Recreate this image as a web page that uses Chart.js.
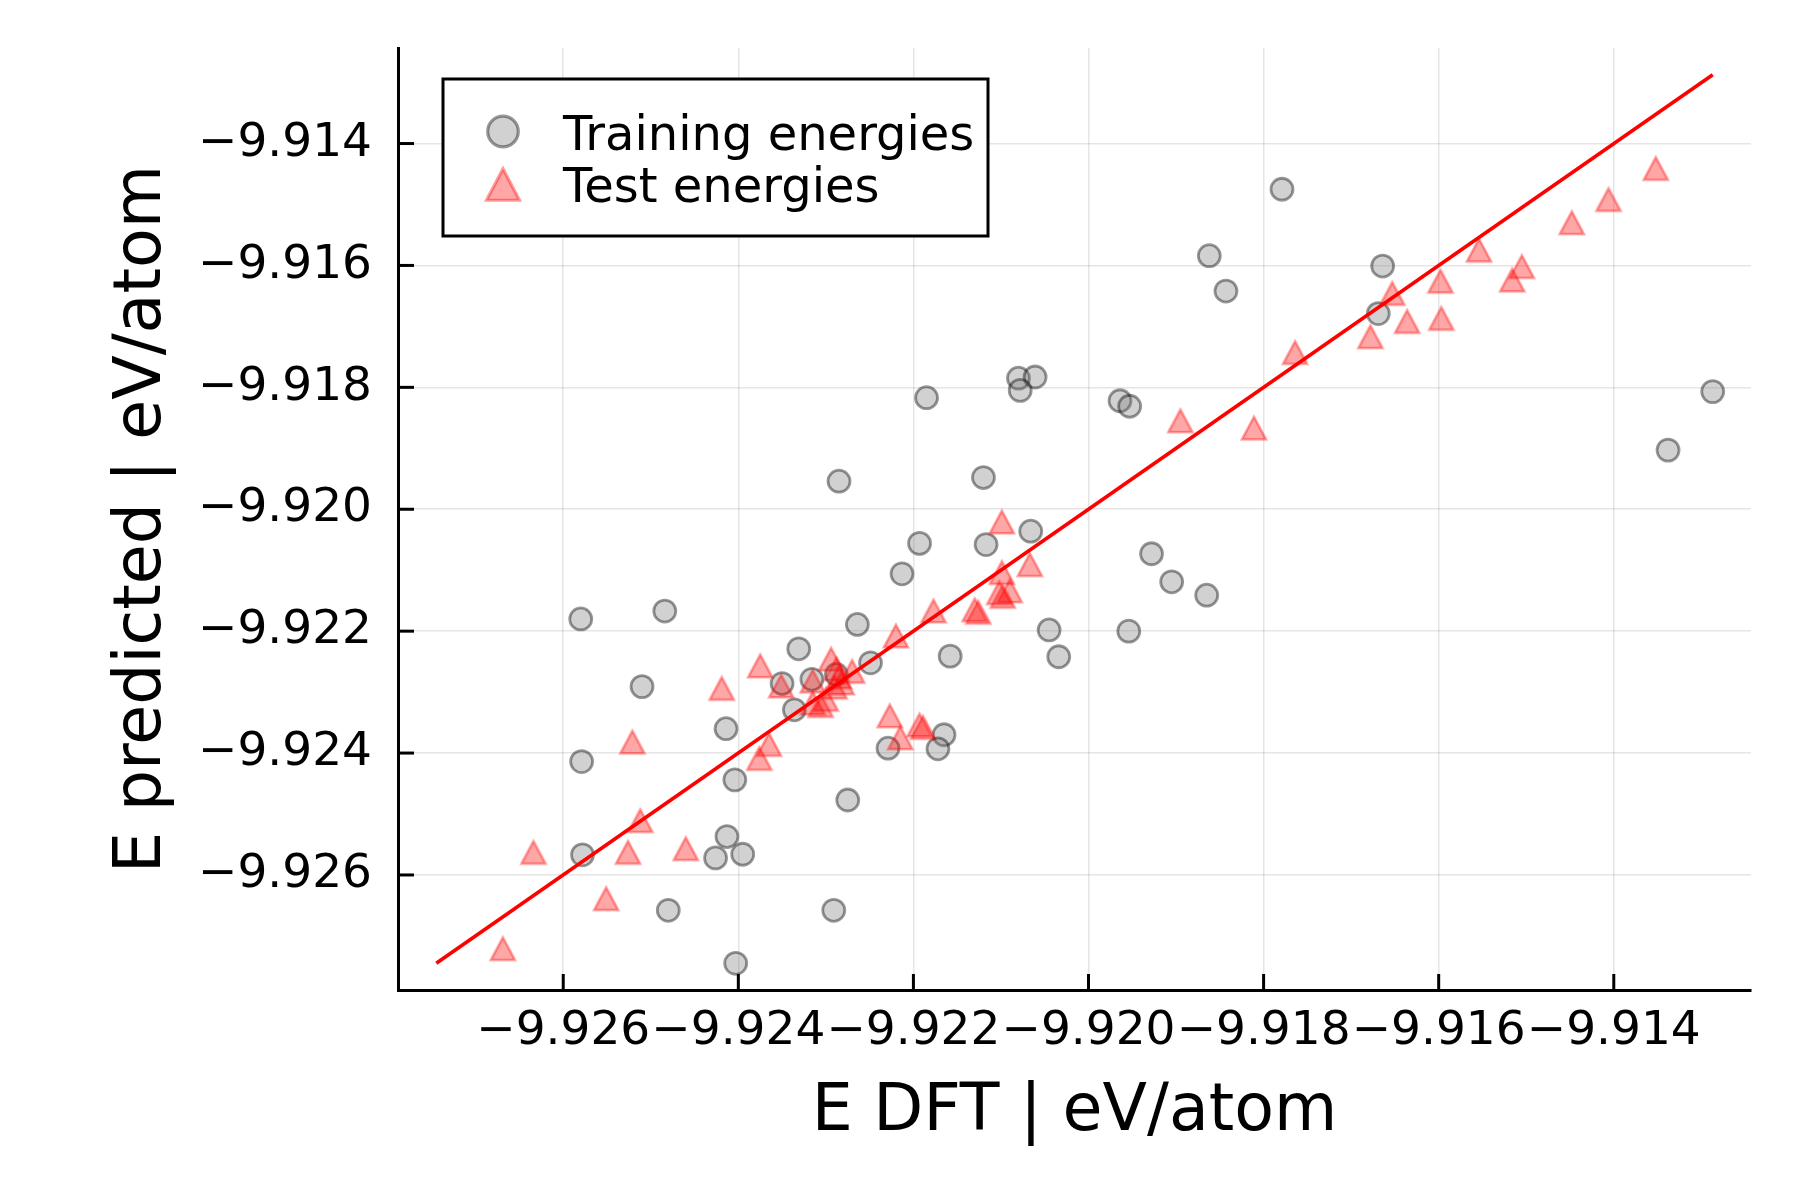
<!DOCTYPE html>
<html>
<head>
<meta charset="utf-8">
<script src="https://cdn.jsdelivr.net/npm/chart.js@4.4.1/dist/chart.umd.min.js"></script>
<style>
html,body{margin:0;padding:0;background:#ffffff;}
#wrap{width:1800px;height:1200px;}
</style>
</head>
<body>
<div id="wrap"><canvas id="c" width="1800" height="1200"></canvas></div>
<script>
// ---- data ----
const xTickValues = [-9.926, -9.924, -9.922, -9.920, -9.918, -9.916, -9.914];
const yTickValues = [-9.926, -9.924, -9.922, -9.920, -9.918, -9.916, -9.914];

const seriesLabels = ['Training energies', 'Test energies'];
const xTitle = 'E DFT | eV/atom';
const yTitle = 'E predicted | eV/atom';

const trainDFT = [
  -9.91779, -9.91862, -9.91843, -9.91664, -9.91669, -9.91287, -9.91338,
  -9.92185, -9.92080, -9.92061, -9.92078, -9.91964, -9.91953, -9.92120, -9.92285,
  -9.92193, -9.92117, -9.92066, -9.92213, -9.91928, -9.91905, -9.91865,
  -9.92264, -9.92249, -9.92158, -9.92045, -9.92034, -9.91954,
  -9.92580, -9.92484, -9.92331, -9.92510, -9.92350, -9.92316, -9.92288, -9.92336, -9.92414,
  -9.92165, -9.92172, -9.92229, -9.92579, -9.92404, -9.92275, -9.92413, -9.92426, -9.92395, -9.92578,
  -9.92480, -9.92291, -9.92403
];
const trainPred = [
  -9.91475, -9.91584, -9.91642, -9.91601, -9.91679, -9.91807, -9.91903,
  -9.91817, -9.91785, -9.91783, -9.91805, -9.91822, -9.91831, -9.91948, -9.91954,
  -9.92056, -9.92058, -9.92036, -9.92106, -9.92073, -9.92119, -9.92141,
  -9.92189, -9.92252, -9.92241, -9.92198, -9.92242, -9.92200,
  -9.92180, -9.92167, -9.92229, -9.92291, -9.92286, -9.92279, -9.92271, -9.92329, -9.92360,
  -9.92370, -9.92393, -9.92392, -9.92414, -9.92444, -9.92477, -9.92537, -9.92572, -9.92566, -9.92567,
  -9.92658, -9.92658, -9.92745
];
const testDFT = [
  -9.91352, -9.91406, -9.91448, -9.91554, -9.91505, -9.91516, -9.91598, -9.91653, -9.91636, -9.91597, -9.91678, -9.91764,
  -9.91895, -9.91811,
  -9.92099, -9.92067, -9.92099, -9.92090, -9.92102, -9.92098, -9.92130, -9.92126, -9.92177, -9.92220,
  -9.92270, -9.92294, -9.92375, -9.92419, -9.92351, -9.92315,
  -9.92288, -9.92285, -9.92282, -9.92290,
  -9.92315, -9.92306, -9.92300,
  -9.92227, -9.92193, -9.92189, -9.92215,
  -9.92521, -9.92365, -9.92376, -9.92512, -9.92634, -9.92526, -9.92460, -9.92551, -9.92669
];
const testPred = [
  -9.91441, -9.91492, -9.91530, -9.91575, -9.91602, -9.91624, -9.91626, -9.91646, -9.91692, -9.91687, -9.91717, -9.91743,
  -9.91855, -9.91867,
  -9.92021, -9.92091, -9.92104, -9.92134, -9.92137, -9.92143, -9.92165, -9.92169, -9.92167, -9.92208,
  -9.92266, -9.92246, -9.92257, -9.92294, -9.92290, -9.92282,
  -9.92262, -9.92275, -9.92285, -9.92292,
  -9.92318, -9.92322, -9.92312,
  -9.92339, -9.92354, -9.92358, -9.92375,
  -9.92382, -9.92386, -9.92409, -9.92511, -9.92563, -9.92563, -9.92557, -9.92639, -9.92721
];
// y = x reference line end points
const refLine = [-9.92745, -9.91287];

// ---- styling ----
const FONT = 'DejaVu Sans';
const circleFill = 'rgba(120,120,120,0.34)';
const circleStroke = 'rgba(0,0,0,0.4)';
const triFill = 'rgba(255,0,0,0.35)';
const triStroke = 'rgba(255,0,0,0.38)';

const allVals = trainDFT.concat(trainPred, testDFT, testPred);
const lo = Math.min(...allVals), hi = Math.max(...allVals);
const widen = (hi - lo) * 0.03;

function drawTri(g, cx, cy, w, h, lw) {
  g.beginPath();
  g.moveTo(cx, cy - h / 2);
  g.lineTo(cx + w / 2, cy + h / 2);
  g.lineTo(cx - w / 2, cy + h / 2);
  g.closePath();
  g.fillStyle = triFill;
  g.fill();
  g.lineWidth = lw;
  g.lineJoin = 'miter';
  g.strokeStyle = triStroke;
  g.stroke();
}
function makeTriangle(w, h, lw) {
  const c = document.createElement('canvas');
  const size = 2 * Math.ceil((Math.max(w, h) + lw * 4) / 2);
  c.width = size; c.height = size;
  drawTri(c.getContext('2d'), size / 2, size / 2, w, h, lw);
  return c;
}
const triImg = makeTriangle(24, 22.5, 2.6);

const fmt = v => (v < 0 ? '\u2212' : '') + Math.abs(v).toFixed(3);

const pts = (xs, ys) => xs.map((x, i) => ({x: x, y: ys[i]}));

const noPad = s => { s.paddingTop = 0; s.paddingBottom = 0; s.paddingLeft = 0; s.paddingRight = 0; };

const extras = {
  id: 'extras',
  afterDraw(chart) {
    const ctx = chart.ctx;
    const ca = chart.chartArea;
    const xs = chart.scales.x, ys = chart.scales.y;
    ctx.save();
    // inward tick marks
    ctx.strokeStyle = '#000';
    ctx.lineWidth = 3;
    const tl = 16;
    xTickValues.forEach(v => {
      const p = xs.getPixelForValue(v);
      ctx.beginPath(); ctx.moveTo(p, ca.bottom); ctx.lineTo(p, ca.bottom - tl); ctx.stroke();
    });
    yTickValues.forEach(v => {
      const p = ys.getPixelForValue(v);
      ctx.beginPath(); ctx.moveTo(ca.left, p); ctx.lineTo(ca.left + tl, p); ctx.stroke();
    });
    // legend
    const bx = ca.left + 45, by = ca.top + 31, bw = 545, bh = 157;
    ctx.fillStyle = '#fff';
    ctx.fillRect(bx, by, bw, bh);
    ctx.lineWidth = 3;
    ctx.strokeStyle = '#000';
    ctx.strokeRect(bx, by, bw, bh);
    // circle marker
    ctx.beginPath();
    ctx.arc(bx + 60, by + 52.5, 15.3, 0, Math.PI * 2);
    ctx.fillStyle = circleFill; ctx.fill();
    ctx.lineWidth = 3.2; ctx.strokeStyle = circleStroke; ctx.stroke();
    // triangle marker
    drawTri(ctx, bx + 60, by + 105.5, 33, 31.5, 3.2);
    // text
    ctx.fillStyle = '#000';
    ctx.font = '48px "' + FONT + '"';
    ctx.textAlign = 'left';
    ctx.textBaseline = 'alphabetic';
    ctx.fillText(chart.data.datasets[2].label, bx + 120, by + 70.5);
    ctx.fillText(chart.data.datasets[1].label, bx + 120, by + 122.5);
    ctx.restore();
  }
};

new Chart(document.getElementById('c'), {
  type: 'scatter',
  data: {
    datasets: [
      {
        label: 'y = x',
        data: pts(refLine, refLine),
        showLine: true,
        borderColor: '#ff0000',
        borderWidth: 3.6,
        pointRadius: 0,
        fill: false
      },
      {
        label: seriesLabels[1],
        data: pts(testDFT, testPred),
        pointStyle: triImg,
        pointRadius: 13,
        pointHoverRadius: 13
      },
      {
        label: seriesLabels[0],
        data: pts(trainDFT, trainPred),
        pointStyle: 'circle',
        pointRadius: 11,
        pointHoverRadius: 11,
        backgroundColor: circleFill,
        borderColor: circleStroke,
        borderWidth: 2.8
      }
    ]
  },
  options: {
    responsive: false,
    animation: false,
    events: [],
    layout: {padding: {left: 0, top: 48, right: 49, bottom: 0}},
    plugins: {legend: {display: false}, tooltip: {enabled: false}},
    scales: {
      x: {
        type: 'linear',
        min: lo - widen,
        max: hi + widen,
        afterBuildTicks: s => { s.ticks = xTickValues.map(v => ({value: v})); },
        afterFit: s => { s.height = 210; noPad(s); },
        grid: {color: 'rgba(0,0,0,0.1)', lineWidth: 1.5, drawTicks: false},
        border: {display: true, color: '#000', width: 3},
        ticks: {
          autoSkip: false, maxRotation: 0, minRotation: 0,
          padding: 14,
          color: '#000',
          font: {family: FONT, size: 47},
          callback: v => fmt(v)
        },
        title: {
          display: true, text: xTitle, color: '#000',
          font: {family: FONT, size: 65, lineHeight: 1.2},
          padding: {top: 0, bottom: 48}
        }
      },
      y: {
        type: 'linear',
        min: lo - widen,
        max: hi + widen,
        afterBuildTicks: s => { s.ticks = yTickValues.map(v => ({value: v})); },
        afterFit: s => { s.width = 398; noPad(s); },
        grid: {color: 'rgba(0,0,0,0.1)', lineWidth: 1.5, drawTicks: false},
        border: {display: true, color: '#000', width: 3},
        ticks: {
          autoSkip: false,
          padding: 26,
          color: '#000',
          font: {family: FONT, size: 47},
          callback: v => fmt(v)
        },
        title: {
          display: true, text: yTitle, color: '#000',
          font: {family: FONT, size: 65, lineHeight: 1.2},
          padding: {top: 104, bottom: 0}
        }
      }
    }
  },
  plugins: [extras]
});
</script>
</body>
</html>
